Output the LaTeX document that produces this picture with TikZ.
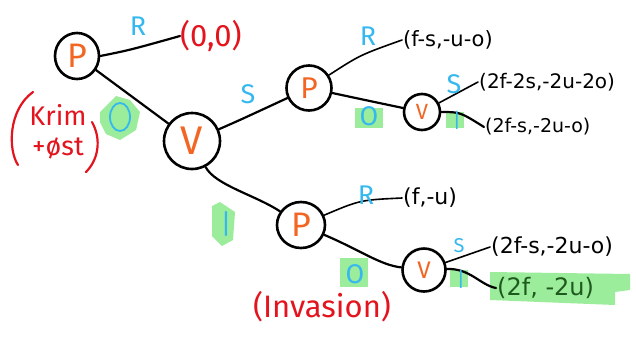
\documentclass[tikz,border=0pt]{standalone}
\usepackage{fontspec}
\setmainfont{Fira Sans}
\newfontfamily\payfont{DejaVu Sans}
\usetikzlibrary{shapes.geometric}
\definecolor{nodeor}{HTML}{F26522}
\definecolor{lblue}{HTML}{35B8F0}
\definecolor{hred}{HTML}{E3141E}
\definecolor{hgreen}{HTML}{9BEC9B}
\definecolor{dgreen}{HTML}{1E5A1E}
\begin{document}
\begin{tikzpicture}[x=1pt,y=-1pt,
  st/.style={draw=black, line width=2.6pt, ellipse, inner sep=0pt, text=nodeor, font=\fontsize{34}{36}\selectfont},
  edge/.style={draw=black, line width=2.2pt, line cap=round},
  thin edge/.style={draw=black, line width=1.6pt, line cap=round},
  act/.style={text=lblue, font=\fontsize{27}{29}\selectfont, inner sep=0pt},
  pay/.style={text=black, anchor=west, inner sep=1pt},
  rtxt/.style={text=hred, font=\fontsize{27}{30}\selectfont, inner sep=0pt},
  hl/.style={fill=hgreen, draw=none}
]
\useasboundingbox (0,0) rectangle (636,354);
% green highlights
\fill[hl] (100,112) -- (116,96) -- (130,100) -- (140,112) -- (136,130) -- (120,140) -- (106,134) -- (100,122) -- cycle;
\fill[hl] (355,108) rectangle (383,128);
\fill[hl] (446,112) rectangle (464,128);
\fill[hl] (212,206) -- (220,202) -- (235,212) -- (233,240) -- (222,246) -- (212,236) -- cycle;
\fill[hl] (340,258) rectangle (368,287);
\fill[hl] (450,270) rectangle (468,287);
\fill[hl] (490,272) -- (630,274) -- (630,290) -- (615,292) -- (615,305) -- (490,300) -- cycle;

% decision nodes
\node[st, minimum width=44pt, minimum height=46pt] (p1) at (77,56) {P};
\node[st, minimum size=56pt, font=\fontsize{40}{42}\selectfont] (v1) at (192,141) {V};
\node[st, minimum width=45pt, minimum height=45pt, font=\fontsize{30}{32}\selectfont] (p2) at (309,88) {P};
\node[st, minimum size=36pt, font=\fontsize{22}{24}\selectfont] (v2) at (422,112) {V};
\node[st, minimum width=48pt, minimum height=46pt] (p3) at (301,225) {P};
\node[st, minimum size=43pt, font=\fontsize{24}{26}\selectfont] (v3) at (424,270) {V};

% payoffs
\node[rtxt, anchor=west, font=\fontsize{31}{33}\selectfont] (o1) at (180,36) {(0,0)};
\node[pay, font=\payfont\fontsize{21}{23}\selectfont] (o2) at (402,40) {(f-s,-u-o)};
\node[pay, font=\payfont\fontsize{20}{22}\selectfont] (o3) at (478,82) {(2f-2s,-2u-2o)};
\node[pay, font=\payfont\fontsize{19}{21}\selectfont] (o4) at (484,127) {(2f-s,-2u-o)};
\node[pay, font=\payfont\fontsize{22}{24}\selectfont] (o5) at (402,198) {(f,-u)};
\node[pay, font=\payfont\fontsize{22}{24}\selectfont] (o6) at (490,247) {(2f-s,-2u-o)};
\node[pay, text=dgreen, font=\payfont\fontsize{24}{26}\selectfont] (o7) at (496,288) {(2f, -2u)};

% edges
\draw[edge] (p1.east) .. controls (130,50) .. (o1.west);
\draw[edge] (p1) -- (v1);
\draw[edge] (v1) .. controls (240,120) .. (p2);
\draw[edge] (v1) .. controls (215,185) and (255,195) .. (p3);
\draw[thin edge] (p2) .. controls (360,55) .. (o2.west);
\draw[edge] (p2) .. controls (365,100) .. (v2);
\draw[thin edge] (v2) -- (o3.west);
\draw[edge] (v2) .. controls (460,112) .. (o4.west);
\draw[thin edge] (p3) .. controls (360,200) .. (o5.west);
\draw[edge] (p3) .. controls (360,250) and (380,265) .. (v3);
\draw[thin edge] (v3) -- (o6.west);
\draw[edge] (v3) .. controls (470,268) and (480,285) .. (o7.west);

% action labels
\node[act] (a1) at (138,26) {R};
\node[act, draw=lblue, line width=1.8pt, ellipse, minimum width=20pt, minimum height=28pt] (a2) at (120,117) {};
\node[act] (a3) at (248,94) {S};
\node[act] (a4) at (226,224) {|};
\node[act] (a5) at (368,36) {R};
\node[act] (a6) at (369,116) {O};
\node[act] (a7) at (454,84) {S};
\node[act, font=\fontsize{20}{22}\selectfont] (a8) at (457,120) {|};
\node[act] (a9) at (366,195) {R};
\node[act] (a10) at (355,274) {O};
\node[act, font=\fontsize{20}{22}\selectfont] (a11) at (459,246) {S};
\node[act, font=\fontsize{20}{22}\selectfont] (a12) at (461,279) {|};

% red annotations
\node[rtxt, align=center] (krim) at (58,132) {Krim\\+øst};
\draw[hred, line width=2.2pt, line cap=round] (33,92) .. controls (8,110) and (8,150) .. (18,165);
\draw[hred, line width=2.2pt, line cap=round] (92,122) .. controls (102,140) and (98,160) .. (86,172);
\node[rtxt, font=\fontsize{31}{33}\selectfont] (inv) at (322,307) {(Invasion)};
\end{tikzpicture}
\end{document}
